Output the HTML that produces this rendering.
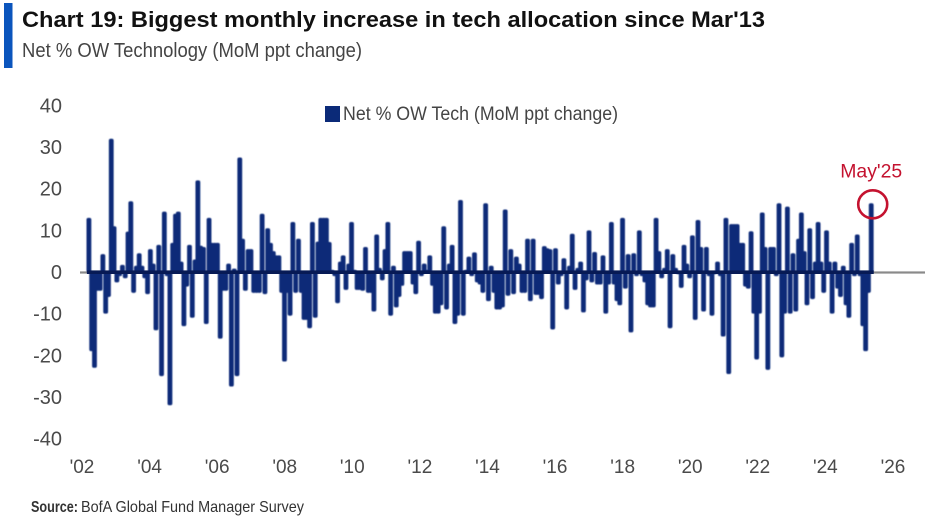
<!DOCTYPE html>
<html lang="en">
<head>
<meta charset="utf-8">
<title>Chart 19: Biggest monthly increase in tech allocation since Mar'13</title>
<style>
html,body{margin:0;padding:0;background:#fff;width:930px;height:521px;overflow:hidden}
svg{display:block}
text{font-family:"Liberation Sans",sans-serif}
</style>
</head>
<body>
<svg id="chart" width="930" height="521" viewBox="0 0 930 521" xmlns="http://www.w3.org/2000/svg">
  <defs>
    <filter id="soft" x="-2%" y="-2%" width="104%" height="104%"><feGaussianBlur stdDeviation="0.45"/></filter>
  </defs>
  <rect x="0" y="0" width="930" height="521" fill="#ffffff"/>
  <rect x="4" y="3" width="8.5" height="65" fill="#0b55bd"/>
  <text x="22" y="27" font-size="22" font-weight="bold" fill="#111" textLength="743" lengthAdjust="spacingAndGlyphs">Chart 19: Biggest monthly increase in tech allocation since Mar'13</text>
  <text x="22" y="57" font-size="20" fill="#444" textLength="340" lengthAdjust="spacingAndGlyphs">Net % OW Technology (MoM ppt change)</text>
  <g id="y-axis"></g>
  <g id="x-axis"></g>
  <g id="baseline-grey"></g>
  <g id="bars" filter="url(#soft)"></g>
  <g id="baseline"></g>
  <rect x="325" y="106" width="15" height="16" fill="#0b2a78"/>
  <text x="343" y="120" font-size="19" fill="#444" textLength="275" lengthAdjust="spacingAndGlyphs">Net % OW Tech (MoM ppt change)</text>
  <g id="annotation"></g>
  <text x="31" y="512" font-size="16" font-weight="bold" fill="#333" textLength="47" lengthAdjust="spacingAndGlyphs">Source:</text>
  <text x="81" y="512" font-size="16" fill="#333" textLength="223" lengthAdjust="spacingAndGlyphs">BofA Global Fund Manager Survey</text>
</svg>
<script>
const yTicks = [40, 30, 20, 10, 0, -10, -20, -30, -40];
const xTickLabels = ["'02","'04","'06","'08","'10","'12","'14","'16","'18","'20","'22","'24","'26"];
const xTickYears = [2002,2004,2006,2008,2010,2012,2014,2016,2018,2020,2022,2024,2026];
const startYear = 2002;
const annotationLabel = "May'25";
const netOwTech = [
13,-19,-23,-4.5,-4.5,4.3,-10,-6,32,11,
-2.5,-1,1.7,-1.5,9.7,17,-5,1.5,4.5,1.5,
-1.5,-5.3,5.5,2,-14,6.5,-25,14.5,-1,-32,
7,14,14.5,2.5,-13,-3.5,6.5,-11,3,22,
6.3,6,-12.5,13,7,7,7,-16,-4.5,-4.5,
2,-27.5,0.8,-25,27.5,8,-4.5,5.5,5.5,-5,
-5,-5,14,-5.3,10.5,7,5,4,4,-5,
-21.5,-5,-10.5,12,-5,8,-5,-11.5,-11.5,-13.5,
12,-11,7.3,13,13,13,7.2,0.5,-1,-7.5,
2.5,4,-4.3,2,12,0.5,-4.3,-4.3,-4.5,6,
-5,-5,-9.5,9,1,-2,5.5,12,-10.5,1.5,
-8.5,-6,-3.3,5,5,5,-3,-5.3,7.5,-1,
2,0.5,4,-3.3,-10,-10,-8,11,-9,2,
6.5,-12.5,-10.5,17.3,-10.5,0.5,3.7,-1,4.7,-2.5,
-3,-5,16.5,-7,1.5,-5,-9,-9,-8.5,15,
-5.7,5.5,-5.3,3.7,2,-5,-5,8,-7,8,
-5.5,-5.5,-6.5,6.2,5.7,5.5,-13.8,5.7,-3,-1,
3.3,-9,1.5,9.2,-4.3,1,2.5,-9.7,-2,10,
-2.5,4.8,-3,-3,4,-10,-3,12,-3,-7,
-8,13,-4,4.3,-14.5,4.5,-1,10,-1,-2.5,
-8,-8.5,-8.5,13,5,-1.5,1,5.5,-13.5,4.3,
1,-0.5,-3.8,6.5,2,-1.5,8.8,-11.5,12.5,6,
-9.5,6,-1,-10.5,-0.5,2.5,-1,-15.5,13,-24.5,
11.5,11.5,11.5,7,7,-3.5,-4,9.8,-10,-21,
-10,14.3,6,-23.5,6,6,-1,16.5,-20.5,-10,
15.7,-10,4.5,-9.5,8,14.3,5,-8,10.5,-6.5,
2.5,12,2.5,-5,10,2.5,-10,2.5,-4,-6,
1.5,-8,-11,7,-1,9,-1,-13,-19,-5,
16.5
];

const svgNS = "http://www.w3.org/2000/svg";
function make(tag, attrs, parent){
  const el = document.createElementNS(svgNS, tag);
  for (const k in attrs) el.setAttribute(k, attrs[k]);
  parent.appendChild(el);
  return el;
}
function yScale(v){ return 272 - v * 4.164; }
function xMonth(i){ return 88.9 + i * 2.794; }
function xYear(yr){ return 82 + (yr - startYear) * 33.79; }

const yAxis = document.getElementById('y-axis');
yTicks.forEach(function(t){
  const el = make('text', {x:62, y:yScale(t)+7, 'font-size':20, 'text-anchor':'end', fill:'#4a4a4a'}, yAxis);
  
  
  el.textContent = String(t);
});

const xAxis = document.getElementById('x-axis');
xTickLabels.forEach(function(label, i){
  const el = make('text', {x:xYear(xTickYears[i]), y:473, 'font-size':19, 'text-anchor':'middle', fill:'#4a4a4a'}, xAxis);
  
  
  el.textContent = label;
});

const greyG = document.getElementById('baseline-grey');
const greyLine = make('rect', {x:80, y:yScale(0)-0.6, width:845, height:2.2, fill:'#8a8a8a'}, greyG);



const barsG = document.getElementById('bars');
netOwTech.forEach(function(v, i){
  const top = yScale(Math.max(v, 0));
  const bottom = yScale(Math.min(v, 0));
  const r = make('rect', {x:xMonth(i)-2.4, y:top, width:4.8, height:Math.max(bottom-top, 0.5), rx:1.8, fill:'#0a2a78'}, barsG);
  
  
});

const baseG = document.getElementById('baseline');
const lastIndex = netOwTech.length - 1;
const darkLine = make('rect', {x:xMonth(0)-2, y:yScale(0)-1.6, width:xMonth(lastIndex)-xMonth(0)+4.5, height:3.6, fill:'#071a55'}, baseG);



const annG = document.getElementById('annotation');
const lastX = xMonth(lastIndex);
const lastY = yScale(netOwTech[lastIndex]);
const ring = make('ellipse', {cx:lastX+1.5, cy:lastY+1, rx:14.5, ry:14, fill:'none', stroke:'#c4122f', 'stroke-width':2.6}, annG);


const annText = make('text', {x:lastX-31, y:lastY-26, 'font-size':19, fill:'#c4122f', textLength:62, lengthAdjust:'spacingAndGlyphs'}, annG);


annText.textContent = annotationLabel;
</script>
</body>
</html>
